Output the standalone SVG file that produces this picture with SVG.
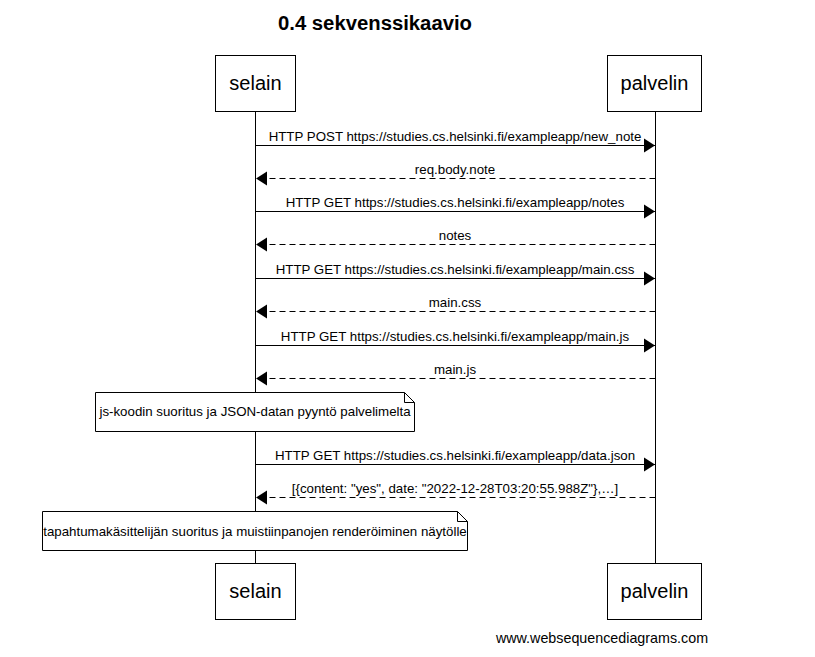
<svg xmlns="http://www.w3.org/2000/svg" width="815" height="657" viewBox="0 0 815 657">
<style>
text{font-family:"Liberation Sans",Arial,sans-serif;fill:#000}
.actor rect{fill:#fff;stroke:#000;stroke-width:1}
.actor text{font-size:20px;text-anchor:middle}
.life{stroke:#000;stroke-width:1}
.msg{stroke:#000;stroke-width:1;fill:none}
.dash{stroke-dasharray:6,4}
.lbl{font-size:13.3px;text-anchor:middle}
.note path{fill:#fff;stroke:#000;stroke-width:1}
.note text{font-size:13.3px;text-anchor:middle}
</style>
<defs>
<marker id="ah" markerWidth="12" markerHeight="16" refX="11" refY="8" orient="auto" markerUnits="userSpaceOnUse">
<path d="M0,1 L11,8 L0,15 Z" fill="#000"/>
</marker>
</defs>
<rect width="815" height="657" fill="#fff"/>
<text x="375" y="30" style="font-size:20.3px;font-weight:bold" text-anchor="middle">0.4 sekvenssikaavio</text>
<g id="lifelines">
<line class="life" x1="255.5" y1="112" x2="255.5" y2="563"/>
<line class="life" x1="655.5" y1="112" x2="655.5" y2="563"/>
</g>
<g id="selain-top" class="actor"><rect x="215.5" y="55.5" width="80" height="56"/><text x="255.5" y="90">selain</text></g>
<g id="palvelin-top" class="actor"><rect x="607.5" y="55.5" width="94" height="56"/><text x="654.5" y="90">palvelin</text></g>
<g id="selain-bottom" class="actor"><rect x="215.5" y="563.5" width="80" height="56"/><text x="255.5" y="598">selain</text></g>
<g id="palvelin-bottom" class="actor"><rect x="607.5" y="563.5" width="94" height="56"/><text x="654.5" y="598">palvelin</text></g>
<g id="connectors">
<line class="msg" x1="255.5" y1="145.5" x2="655" y2="145.5" marker-end="url(#ah)"/>
<text class="lbl" x="455" y="141">HTTP POST https://studies.cs.helsinki.fi/exampleapp/new_note</text>
<line class="msg dash" x1="655.5" y1="178.5" x2="256" y2="178.5" marker-end="url(#ah)"/>
<text class="lbl" x="455" y="174">req.body.note</text>
<line class="msg" x1="255.5" y1="211.5" x2="655" y2="211.5" marker-end="url(#ah)"/>
<text class="lbl" x="455" y="207">HTTP GET https://studies.cs.helsinki.fi/exampleapp/notes</text>
<line class="msg dash" x1="655.5" y1="244.5" x2="256" y2="244.5" marker-end="url(#ah)"/>
<text class="lbl" x="455" y="240">notes</text>
<line class="msg" x1="255.5" y1="278.5" x2="655" y2="278.5" marker-end="url(#ah)"/>
<text class="lbl" x="455" y="274">HTTP GET https://studies.cs.helsinki.fi/exampleapp/main.css</text>
<line class="msg dash" x1="655.5" y1="311.5" x2="256" y2="311.5" marker-end="url(#ah)"/>
<text class="lbl" x="455" y="307">main.css</text>
<line class="msg" x1="255.5" y1="345.5" x2="655" y2="345.5" marker-end="url(#ah)"/>
<text class="lbl" x="455" y="341">HTTP GET https://studies.cs.helsinki.fi/exampleapp/main.js</text>
<line class="msg dash" x1="655.5" y1="378.5" x2="256" y2="378.5" marker-end="url(#ah)"/>
<text class="lbl" x="455" y="374">main.js</text>
<line class="msg" x1="255.5" y1="464.5" x2="655" y2="464.5" marker-end="url(#ah)"/>
<text class="lbl" x="455" y="460">HTTP GET https://studies.cs.helsinki.fi/exampleapp/data.json</text>
<line class="msg dash" x1="655.5" y1="497.5" x2="256" y2="497.5" marker-end="url(#ah)"/>
<text class="lbl" x="455" y="493">[{content: "yes", date: "2022-12-28T03:20:55.988Z"},…]</text>
</g>
<g id="note1" class="note">
<path d="M95.5,392.5 H404.5 L414.5,402.5 V431.5 H95.5 Z M404.5,392.5 V402.5 H414.5"/>
<text x="255" y="416">js-koodin suoritus ja JSON-datan pyyntö palvelimelta</text>
</g>
<g id="note2" class="note">
<path d="M42.5,511.5 H457.5 L467.5,521.5 V550.5 H42.5 Z M457.5,511.5 V521.5 H467.5"/>
<text x="255" y="536">tapahtumakäsittelijän suoritus ja muistiinpanojen renderöiminen näytölle</text>
</g>
<text x="602" y="643" style="font-size:14.3px" text-anchor="middle">www.websequencediagrams.com</text>
</svg>
